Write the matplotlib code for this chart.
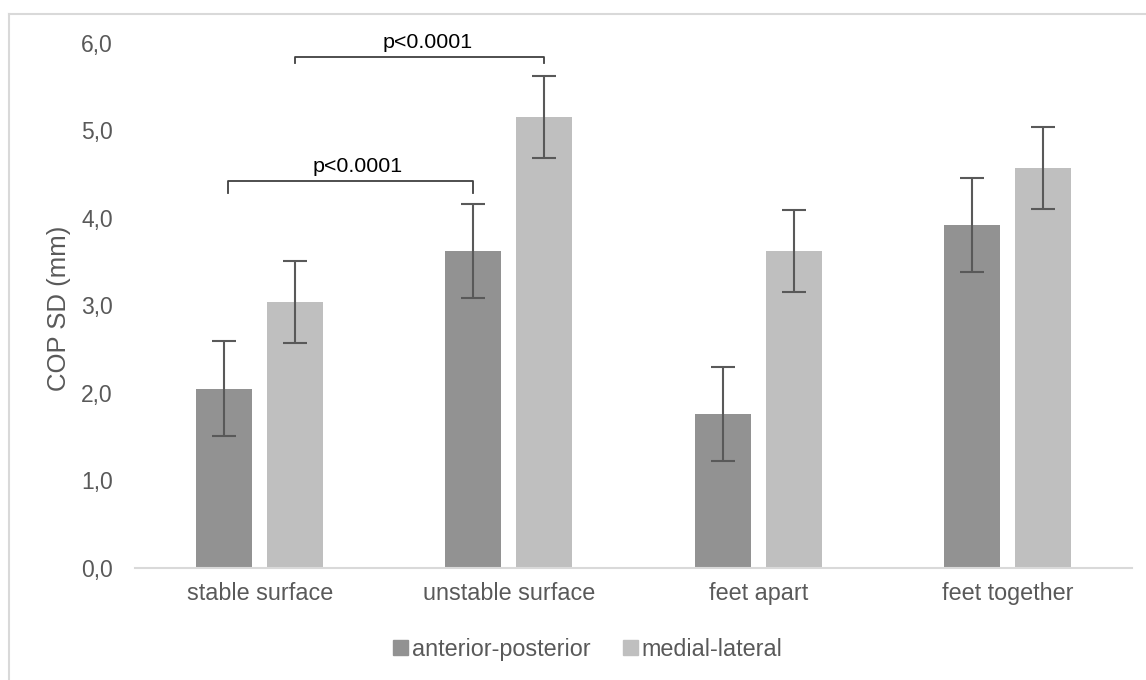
import numpy as np
import matplotlib
matplotlib.use("Agg")
import matplotlib.pyplot as plt
from matplotlib.lines import Line2D

# data
conditions = ["stable surface", "unstable surface", "feet apart", "feet together"]
ap_values = [2.05, 3.62, 1.76, 3.92]
ml_values = [3.04, 5.15, 3.62, 4.57]
ap_err = [0.54, 0.54, 0.54, 0.54]
ml_err = [0.47, 0.47, 0.47, 0.47]
series_names = ["anterior-posterior", "medial-lateral"]
p_label = "p<0.0001"

plt.rcParams["font.family"] = ["Liberation Sans", "DejaVu Sans"]

fig = plt.figure(figsize=(11.46, 6.8), dpi=100)
ax = fig.add_axes([0.1178, 0.1647, 0.87, 0.7721])

x = np.arange(len(conditions))
w = 0.225
off = 0.1425
ap_col = "#929292"
ml_col = "#bfbfbf"
err_kw = dict(ecolor="#595959", elinewidth=1.5, capsize=8.8, capthick=1.5)

ax.bar(x - off, ap_values, w, color=ap_col, yerr=ap_err, error_kw=err_kw,
       label=series_names[0])
ax.bar(x + off, ml_values, w, color=ml_col, yerr=ml_err, error_kw=err_kw,
       label=series_names[1])

ax.set_xlim(-0.5, 3.5)
ax.set_ylim(0, 6)
ax.set_yticks(np.arange(0, 7, 1))
ax.set_yticklabels([f"{v:.1f}".replace(".", ",") for v in range(0, 7)])
ax.set_xticks(x)
ax.set_xticklabels(conditions)
ax.tick_params(axis="y", length=0, pad=16, labelsize=16.5, labelcolor="#595959")
ax.tick_params(axis="x", length=0, pad=10, labelsize=16.8, labelcolor="#595959")

for s in ["top", "right", "left"]:
    ax.spines[s].set_visible(False)
ax.spines["bottom"].set_color("#d9d9d9")
ax.spines["bottom"].set_linewidth(1.5)

# y axis title
fig.text(59 / 1146, 1 - 308 / 680, "COP SD (mm)", rotation=90, ha="center",
         va="center", fontsize=18.5, color="#595959")


# significance brackets
def bracket(x0, x1, y, tip, txt_y, txt_dx):
    ax.plot([x0, x0, x1, x1], [tip, y, y, tip], color="#404040", lw=1.3,
            clip_on=False)
    ax.text((x0 + x1) / 2 + txt_dx, txt_y, p_label, ha="center",
            va="baseline", fontsize=15.4, color="black")


bracket(x[0] - off + 0.015, x[1] - off, 4.42, 4.29, 4.53, 0.03)
bracket(x[0] + off, x[1] + off, 5.84, 5.77, 5.94, 0.03)

handles = [plt.Rectangle((0, 0), 1, 1, color=ap_col),
           plt.Rectangle((0, 0), 1, 1, color=ml_col)]
fig.legend(handles, series_names, loc="center", bbox_to_anchor=(0.513, 0.045),
           ncol=2, frameon=False, fontsize=16.8, labelcolor="#595959",
           handlelength=0.64, handleheight=0.64, handletextpad=0.15,
           columnspacing=1.4)

# outer chart frame (left and top edges visible)
fig.add_artist(Line2D([9 / 1146, 9 / 1146], [0, 1 - 14 / 680],
                      transform=fig.transFigure, color="#d9d9d9", lw=1.5))
fig.add_artist(Line2D([9 / 1146, 1], [1 - 14 / 680, 1 - 14 / 680],
                      transform=fig.transFigure, color="#d9d9d9", lw=1.5))

fig.savefig("out.png", dpi=100)
